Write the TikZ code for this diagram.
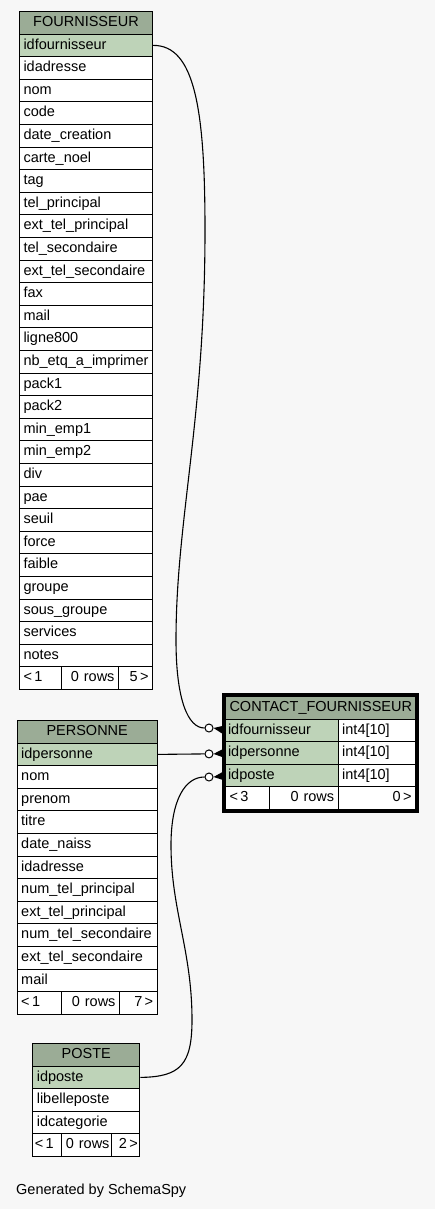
\documentclass[tikz,border=0pt]{standalone}
\usepackage{fontspec}
\setmainfont{Liberation Sans}
\usetikzlibrary{fit}
\definecolor{bg}{HTML}{F7F7F7}
\definecolor{hdr}{HTML}{9BAC96}
\definecolor{keyc}{HTML}{BED3B8}
\begin{document}
\begin{tikzpicture}[x=1pt,y=-1pt,
  cell/.style={draw=black,line width=1pt,fill=white,minimum height=22.6pt,inner xsep=4pt,inner ysep=0pt,anchor=north west,font=\fontsize{14.5}{16}\selectfont,text height=10.5pt,text depth=3pt},
  L/.style={cell,text width=#1,align=left},
  R/.style={cell,text width=#1,align=right},
  T/.style={cell,text width=#1,align=center,fill=hdr},
  K/.style={cell,text width=#1,align=left,fill=keyc},
  circ/.style={circle,draw=black,fill=white,line width=1pt,minimum size=8pt,inner sep=0pt},
  conn/.style={draw=black,line width=1.1pt}]
\useasboundingbox (0,0) rectangle (435,1209);
\fill[bg] (0,0) rectangle (435,1209);

% FOURNISSEUR
\node[T=125pt] (ft) at (19,11) {FOURNISSEUR};
\node[K=125pt] (f0) at (19,33.6) {idfournisseur};
\foreach \t [count=\i] in {idadresse,nom,code,date\_creation,carte\_noel,tag,tel\_principal,ext\_tel\_principal,tel\_secondaire,ext\_tel\_secondaire,fax,mail,ligne800,nb\_etq\_a\_imprimer,pack1,pack2,min\_emp1,min\_emp2,div,pae,seuil,force,faible,groupe,sous\_groupe,services,notes}
  \node[L=125pt] (f\i) at (19,{56.2+22.6*(\i-1)}) {\t};
\node[L=34pt] (ff1) at (19,666.4) {<\,1};
\node[R=49pt] (ff2) at (61,666.4) {0 rows};
\node[R=26pt] (ff3) at (118,666.4) {5\,>};

% PERSONNE
\node[T=132pt] (pt) at (16.7,720) {PERSONNE};
\node[K=132pt] (p0) at (16.7,742.6) {idpersonne};
\foreach \t [count=\i] in {nom,prenom,titre,date\_naiss,idadresse,num\_tel\_principal,ext\_tel\_principal,num\_tel\_secondaire,ext\_tel\_secondaire,mail}
  \node[L=132pt] (p\i) at (16.7,{765.2+22.6*(\i-1)}) {\t};
\node[L=36pt] (pf1) at (16.7,991.2) {<\,1};
\node[R=50.3pt] (pf2) at (60.7,991.2) {0 rows};
\node[R=29.7pt] (pf3) at (119,991.2) {7\,>};

% POSTE
\node[T=99pt] (ot) at (32.3,1043) {POSTE};
\node[K=99pt] (o0) at (32.3,1065.6) {idposte};
\node[L=99pt] (o1) at (32.3,1088.2) {libelleposte};
\node[L=99pt] (o2) at (32.3,1110.8) {idcategorie};
\node[L=24.4pt,inner xsep=2pt] (of1) at (32.3,1133.4) {<\,1};
\node[R=46.3pt,inner xsep=2pt] (of2) at (60.7,1133.4) {0 rows};
\node[R=24.3pt,inner xsep=2pt] (of3) at (111,1133.4) {2\,>};

% CONTACT_FOURNISSEUR
\node[T=182pt] (ct) at (225,696) {CONTACT\_FOURNISSEUR};
\node[K=107.7pt,inner xsep=2.5pt] (ck1) at (225,718.6) {idfournisseur};
\node[K=107.7pt,inner xsep=2.5pt] (ck2) at (225,741.2) {idpersonne};
\node[K=107.7pt,inner xsep=2.5pt] (ck3) at (225,763.8) {idposte};
\node[L=69.3pt] (cy1) at (337.7,718.6) {int4[10]};
\node[L=69.3pt] (cy2) at (337.7,741.2) {int4[10]};
\node[L=69.3pt] (cy3) at (337.7,763.8) {int4[10]};
\node[L=36pt] (cf1) at (225,786.4) {<\,3};
\node[R=60.7pt] (cf2) at (269,786.4) {0 rows};
\node[R=69.3pt] (cf3) at (337.7,786.4) {0\,>};
\node[fit=(ct)(cf1)(cf3),draw=black,line width=2.6pt,inner sep=1.3pt] (cbox) {};

% connector ends
\node[circ] (c1) at (209,728) {};
\node[circ] (c2) at (209,753.9) {};
\node[circ] (c3) at (209,777) {};
\fill (c1.east) -- ([yshift=5pt]ck1.west) -- ([yshift=-5pt]ck1.west) -- cycle;
\fill (c2.east) -- ([yshift=5pt]ck2.west) -- ([yshift=-5pt]ck2.west) -- cycle;
\fill (c3.east) -- ([yshift=5pt]ck3.west) -- ([yshift=-5pt]ck3.west) -- cycle;

% connectors
\draw[conn] (f0.east) .. controls (195,44.9) and (205,110) .. (205,230)
  .. controls (205,420) and (176,520) .. (176,640)
  .. controls (176,700) and (188,728) .. (c1.west);
\draw[conn] (p0.east) -- (c2.west);
\draw[conn] (o0.east) .. controls (180,1076.9) and (192,1065) .. (192,1020)
  .. controls (192,950) and (171,910) .. (171,845)
  .. controls (171,800) and (185,777) .. (c3.west);

\node[anchor=west,inner sep=0pt,font=\fontsize{14.5}{16}\selectfont] (gen) at (16,1191) {Generated by SchemaSpy};
\end{tikzpicture}
\end{document}
